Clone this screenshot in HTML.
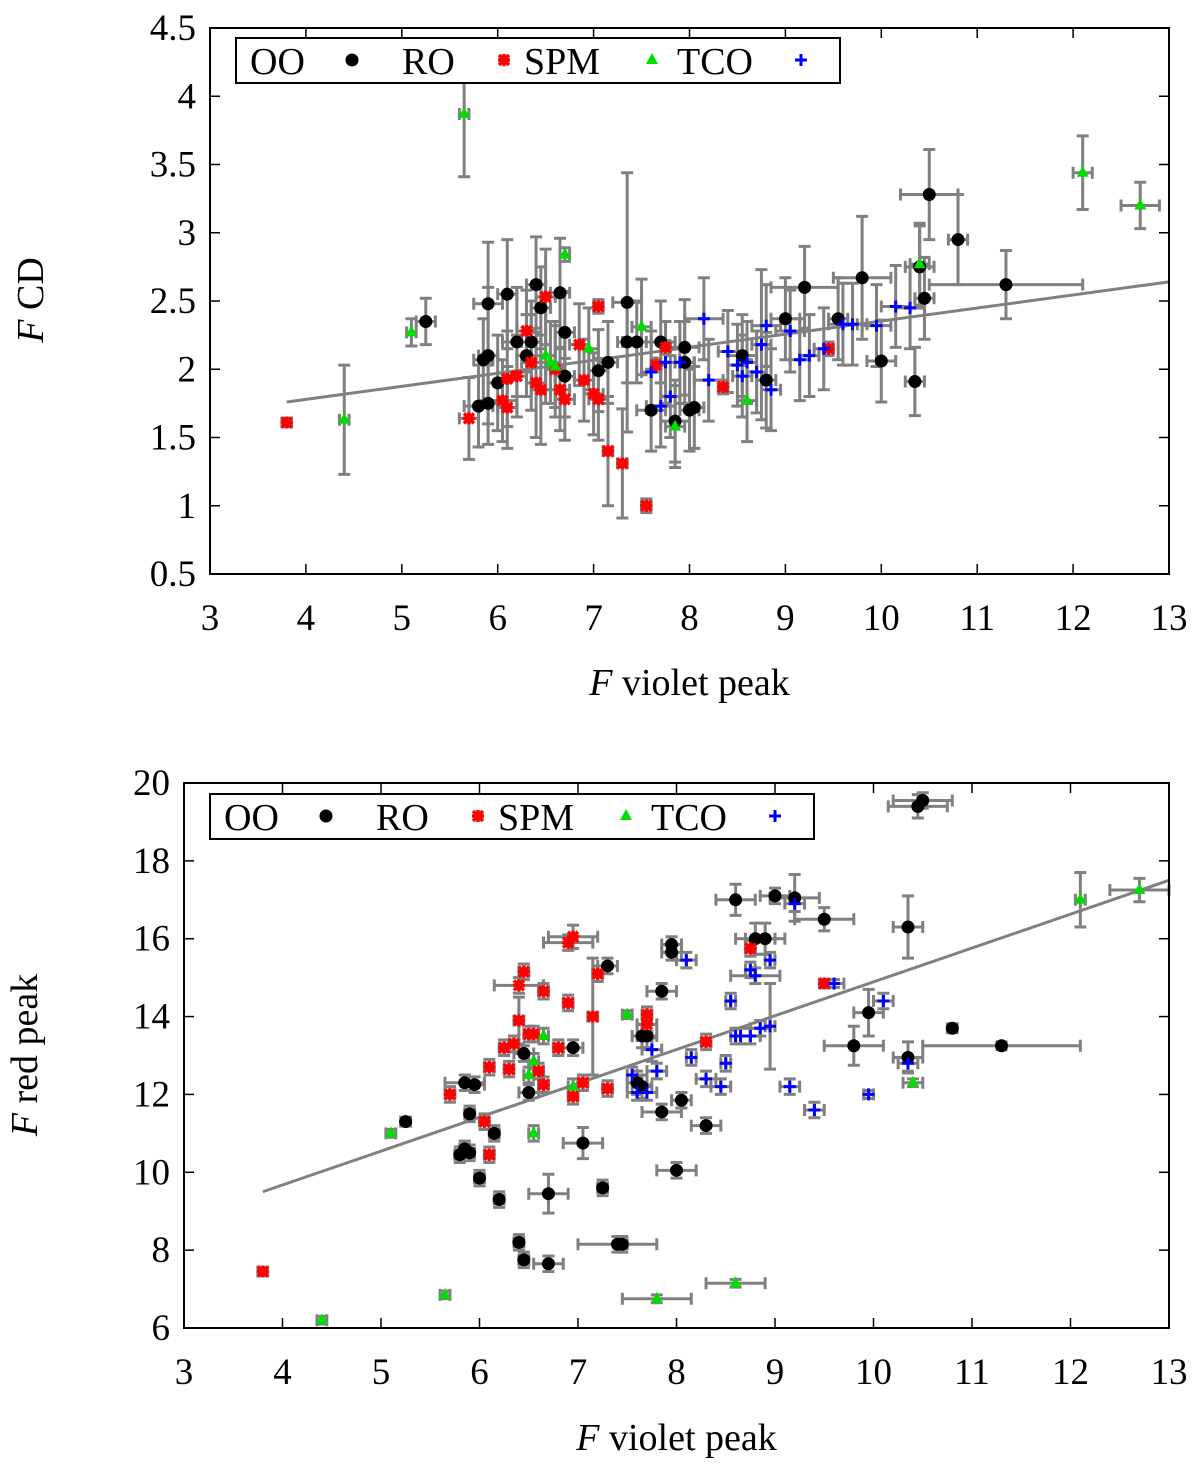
<!DOCTYPE html>
<html><head><meta charset="utf-8"><style>
body{margin:0;background:#fff}
svg text{font-family:"Liberation Serif",serif;fill:#000}
</style></head><body>
<svg id="chart" width="1200" height="1462" viewBox="0 0 1200 1462" xmlns="http://www.w3.org/2000/svg"></svg>
<script>
// ===== Top panel data: [x, y, xerr, yerr] =====
const topOO = [[5.25,2.35,0.1,0.17],[5.9,2.48,0.15,0.45],[6.1,2.55,0.1,0.4],[5.85,2.07,0.1,0.3],[5.9,2.1,0.1,0.5],[5.8,1.73,0.15,0.3],[5.9,1.75,0.1,0.3],[6.0,1.9,0.1,0.35],[6.2,2.2,0.15,0.4],[6.4,2.62,0.1,0.35],[6.45,2.45,0.1,0.3],[6.65,2.56,0.1,0.4],[6.7,2.27,0.1,0.3],[6.35,2.2,0.1,0.3],[6.3,2.1,0.1,0.3],[6.7,1.95,0.1,0.3],[7.05,1.99,0.1,0.3],[7.35,2.49,0.15,0.95],[7.15,2.05,0.1,0.3],[7.45,2.2,0.15,0.3],[7.6,1.7,0.15,0.3],[7.85,1.62,0.15,0.3],[7.95,2.16,0.15,0.35],[7.95,2.05,0.1,0.3],[8.0,1.7,0.1,0.3],[8.05,1.72,0.1,0.3],[8.55,2.1,0.15,0.3],[8.8,1.92,0.1,0.35],[9.2,2.6,0.35,0.3],[9.0,2.37,0.15,0.3],[9.55,2.37,0.1,0.3],[9.8,2.67,0.3,0.45],[10.0,2.06,0.15,0.3],[10.35,1.91,0.1,0.25],[10.4,2.75,0.15,0.3],[10.45,2.52,0.1,0.3],[10.5,3.28,0.3,0.33],[10.8,2.95,0.1,0.33],[11.3,2.62,0.8,0.25],[7.7,2.2,0.15,0.3],[7.35,2.2,0.1,0.3]];
const topRO = [[3.8,1.61,0.05,0.03],[5.7,1.64,0.1,0.3],[6.05,1.77,0.15,0.3],[6.1,1.72,0.1,0.3],[6.1,1.93,0.1,0.35],[6.3,2.28,0.1,0.3],[6.35,2.05,0.1,0.35],[6.4,1.9,0.1,0.4],[6.45,1.85,0.1,0.4],[6.5,2.53,0.1,0.35],[6.6,2.0,0.1,0.35],[6.65,1.85,0.1,0.3],[6.7,1.78,0.1,0.3],[6.85,2.18,0.1,0.3],[6.9,1.92,0.1,0.3],[7.0,1.82,0.1,0.3],[7.05,1.78,0.1,0.3],[7.05,2.46,0.05,0.05],[7.15,1.4,0.05,0.4],[7.3,1.31,0.05,0.4],[7.55,1.0,0.05,0.05],[7.65,2.03,0.05,0.05],[7.75,2.16,0.05,0.05],[8.35,1.87,0.05,0.05],[9.45,2.15,0.05,0.05],[6.2,1.95,0.1,0.3]];
const topSPM = [[4.4,1.63,0.05,0.4],[5.1,2.27,0.05,0.1],[5.65,3.87,0.05,0.46],[6.5,2.1,0.1,0.35],[6.55,2.05,0.1,0.3],[6.6,2.02,0.1,0.3],[6.7,2.84,0.05,0.05],[6.95,2.15,0.1,0.3],[7.5,2.31,0.1,0.35],[7.85,1.58,0.1,0.3],[8.6,1.77,0.1,0.3],[10.4,2.77,0.1,0.3],[12.1,3.44,0.1,0.27],[12.7,3.2,0.2,0.17]];
const topTCO = [[7.6,1.98,0.1,0.3],[7.7,1.73,0.15,0.3],[7.75,2.05,0.1,0.3],[7.8,1.8,0.1,0.3],[7.9,2.05,0.15,0.3],[8.15,2.37,0.2,0.3],[8.2,1.92,0.15,0.3],[8.4,2.13,0.1,0.3],[8.5,2.03,0.1,0.3],[8.55,1.95,0.1,0.3],[8.6,2.05,0.1,0.3],[8.75,2.18,0.1,0.55],[8.8,2.32,0.15,0.3],[8.85,1.85,0.1,0.3],[8.7,1.98,0.1,0.3],[9.05,2.28,0.15,0.3],[9.15,2.07,0.1,0.3],[9.25,2.1,0.1,0.3],[9.4,2.15,0.1,0.3],[9.6,2.33,0.15,0.3],[9.95,2.32,0.15,0.3],[10.15,2.46,0.15,0.3],[10.3,2.45,0.15,0.3],[9.7,2.33,0.15,0.3]];
const topFit = [[3.8,1.76],[13,2.64]];
const topYTicks = ["0.5","1","1.5","2","2.5","3","3.5","4","4.5"];
const xTicks = ["3","4","5","6","7","8","9","10","11","12","13"];

// ===== Bottom panel data: [x, y, xerr, yerr] =====
const botOO = [[5.25,11.3,0.05,0.1],[5.8,10.45,0.05,0.2],[5.85,10.6,0.05,0.2],[5.9,10.5,0.05,0.2],[5.85,12.3,0.2,0.2],[5.9,11.5,0.05,0.2],[5.95,12.25,0.1,0.2],[6.0,9.85,0.05,0.2],[6.15,11.0,0.05,0.2],[6.2,9.3,0.05,0.2],[6.4,8.2,0.05,0.2],[6.45,7.75,0.05,0.2],[6.45,13.05,0.1,0.2],[6.5,12.05,0.1,0.2],[6.7,9.45,0.2,0.5],[6.7,7.65,0.15,0.2],[6.95,13.2,0.1,0.2],[7.05,10.75,0.2,0.4],[7.25,9.6,0.05,0.2],[7.3,15.3,0.1,0.2],[7.4,8.15,0.4,0.2],[7.45,8.15,0.05,0.2],[7.65,13.5,0.1,0.3],[7.7,13.5,0.1,0.3],[7.6,12.3,0.1,0.3],[7.85,14.65,0.15,0.2],[7.85,11.55,0.2,0.2],[7.95,15.85,0.1,0.2],[7.95,15.65,0.1,0.2],[8.0,10.05,0.2,0.2],[8.05,11.85,0.1,0.2],[8.3,11.2,0.15,0.2],[8.6,17.0,0.2,0.4],[8.8,16.0,0.2,0.4],[8.9,16.0,0.2,0.4],[9.0,17.1,0.15,0.2],[9.2,17.05,0.25,0.6],[9.5,16.5,0.3,0.3],[9.8,13.25,0.3,0.5],[9.95,14.1,0.15,0.6],[10.35,16.3,0.15,0.8],[10.35,12.95,0.15,0.4],[10.45,19.4,0.3,0.3],[10.5,19.55,0.3,0.2],[10.8,13.7,0.05,0.1],[11.3,13.25,0.8,0.1],[7.65,12.2,0.1,0.3]];
const botRO = [[3.8,7.45,0.05,0.1],[5.7,12.0,0.05,0.2],[6.05,11.3,0.05,0.2],[6.1,10.45,0.05,0.2],[6.1,12.7,0.05,0.2],[6.25,13.2,0.05,0.2],[6.3,12.65,0.05,0.2],[6.35,13.3,0.05,0.2],[6.4,13.9,0.05,0.6],[6.45,15.15,0.05,0.2],[6.4,14.8,0.25,0.2],[6.5,13.55,0.05,0.2],[6.55,13.55,0.05,0.2],[6.6,12.6,0.05,0.2],[6.65,12.25,0.05,0.2],[6.65,14.65,0.05,0.2],[6.9,14.35,0.05,0.2],[6.95,11.95,0.05,0.2],[6.9,15.9,0.25,0.2],[6.95,16.05,0.25,0.3],[7.05,12.3,0.05,0.2],[7.2,15.1,0.05,0.2],[7.15,14.0,0.05,1.5],[7.3,12.15,0.05,0.2],[7.7,13.8,0.1,0.2],[7.7,14.05,0.05,0.2],[8.3,13.35,0.05,0.2],[8.75,15.75,0.05,0.2],[9.5,14.85,0.05,0.1],[6.8,13.2,0.05,0.2]];
const botSPM = [[4.4,6.2,0.05,0.1],[5.1,11.0,0.05,0.1],[5.65,6.85,0.05,0.1],[6.5,12.5,0.05,0.2],[6.55,11.0,0.05,0.2],[6.55,12.85,0.05,0.2],[6.65,13.5,0.05,0.2],[6.95,12.2,0.05,0.2],[7.5,14.05,0.05,0.1],[7.8,6.75,0.35,0.1],[8.6,7.15,0.3,0.1],[10.4,12.3,0.1,0.1],[12.1,17.0,0.05,0.7],[12.7,17.25,0.3,0.3]];
const botTCO = [[7.55,12.5,0.05,0.2],[7.6,12.05,0.1,0.2],[7.7,12.05,0.1,0.2],[7.75,13.15,0.1,0.3],[7.8,12.6,0.1,0.2],[8.1,15.45,0.1,0.2],[8.15,12.95,0.05,0.2],[8.3,12.4,0.1,0.2],[8.45,12.2,0.1,0.2],[8.5,12.8,0.05,0.2],[8.55,14.4,0.05,0.2],[8.6,13.5,0.05,0.2],[8.75,13.5,0.1,0.2],[8.75,15.2,0.05,0.2],[8.8,15.05,0.25,0.2],[8.85,13.7,0.1,0.2],[8.95,13.75,0.05,1.1],[8.95,15.45,0.05,0.2],[9.15,12.2,0.1,0.2],[9.2,16.9,0.1,0.2],[9.4,11.6,0.1,0.2],[9.6,14.85,0.1,0.1],[9.95,12.0,0.05,0.1],[10.1,14.4,0.1,0.2],[10.35,12.8,0.1,0.2],[8.65,13.5,0.1,0.2]];
const botFit = [[3.8,9.5],[13,17.5]];
const botYTicks = ["6","8","10","12","14","16","18","20"];

const NS = "http://www.w3.org/2000/svg";
const svg = document.getElementById('chart');
function mk(tag, attrs, parent){
  const e = document.createElementNS(NS, tag);
  for (const k in attrs) e.setAttribute(k, attrs[k]);
  (parent||svg).appendChild(e);
  return e;
}
function marker(g, type, cx, cy){
  let m;
  if (type==='oo'){ m = mk('circle',{cx:cx,cy:cy,r:6.5,fill:'#000'},g); }
  else if (type==='ro'){ m = mk('path',{d:`M${cx-5} ${cy-5}L${cx+5} ${cy+5}M${cx-5} ${cy+5}L${cx+5} ${cy-5}M${cx} ${cy-6}V${cy+6}M${cx-6} ${cy}H${cx+6}`,stroke:'#f00','stroke-width':3.5,fill:'none'},g); }
  else if (type==='spm'){ m = mk('path',{d:`M${cx} ${cy-7}L${cx+6} ${cy+4}L${cx-6} ${cy+4}Z`,fill:'#0d0'},g); }
  else { m = mk('path',{d:`M${cx-6} ${cy}H${cx+6}M${cx} ${cy-6}V${cy+6}`,stroke:'#00f','stroke-width':3,fill:'none'},g); }
  return m;
}
function panel(opt){
  const {L,R,T,B,x0,x1,y0,y1,yTicks,series,fit,legend,name,ylab,xlabY,ylabX,ylabY} = opt;
  const g = mk('g',{});
  
  
  const sx = v => L + (v-x0)/(x1-x0)*(R-L);
  const sy = v => B - (v-y0)/(y1-y0)*(B-T);
  // ticks
  xTicks.forEach(t=>{
    const v=+t, X=sx(v);
    mk('line',{x1:X,x2:X,y1:B,y2:B-10,stroke:'#000','stroke-width':1.5},g);
    mk('line',{x1:X,x2:X,y1:T,y2:T+10,stroke:'#000','stroke-width':1.5},g);
    const tx = mk('text',{x:X,y:B+56,'font-size':37,'text-anchor':'middle'},g);
    tx.textContent=t;
    
    
  });
  yTicks.forEach(t=>{
    const v=+t, Y=sy(v);
    mk('line',{x1:L,x2:L+10,y1:Y,y2:Y,stroke:'#000','stroke-width':1.5},g);
    mk('line',{x1:R,x2:R-10,y1:Y,y2:Y,stroke:'#000','stroke-width':1.5},g);
    const tx = mk('text',{x:L-14,y:Y+12,'font-size':37,'text-anchor':'end'},g);
    tx.textContent=t;
    
    
  });
  // fit line
  const fl = mk('line',{x1:sx(fit[0][0]),y1:sy(fit[0][1]),x2:sx(fit[1][0]),y2:sy(fit[1][1]),stroke:'#808080','stroke-width':3},g);
  
  
  // error bars then markers
  series.forEach(s=>{
    const sg = mk('g',{},g);
    
    
    s.data.forEach(p=>{
      const X=sx(p[0]),Y=sy(p[1]);
      const xa=sx(p[0]-p[2]), xb=sx(p[0]+p[2]), ya=sy(p[1]-p[3]), yb=sy(p[1]+p[3]);
      mk('path',{d:`M${xa} ${Y}H${xb}M${xa} ${Y-6}V${Y+6}M${xb} ${Y-6}V${Y+6}M${X} ${ya}V${yb}M${X-6} ${ya}H${X+6}M${X-6} ${yb}H${X+6}`,stroke:'#808080','stroke-width':3,fill:'none'},sg);
    });
  });
  series.forEach(s=>{
    const sg = mk('g',{},g);
    s.data.forEach(p=>{
      const m = marker(sg, s.type, sx(p[0]), sy(p[1]));
      
      
    });
  });
  // frame
  mk('rect',{x:L,y:T,width:R-L,height:B-T,fill:'none',stroke:'#000','stroke-width':2},g);
  // legend
  const lg = mk('g',{},g);
  
  
  mk('rect',{x:legend.x,y:legend.y,width:604,height:45,fill:'#fff',stroke:'#000','stroke-width':2},lg);
  const items=[['OO','oo',14,116],['RO','ro',166,268],['SPM','spm',288,416],['TCO','tco',441,565]];
  items.forEach(it=>{
    const t = mk('text',{x:legend.x+it[2],y:legend.y+36,'font-size':38},lg);
    t.textContent=it[0];
    
    
    marker(lg,it[1],legend.x+it[3],legend.y+22);
  });
  // axis labels
  const xl = mk('text',{x:(L+R)/2,y:xlabY,'font-size':38,'text-anchor':'middle'},g);
  xl.innerHTML='<tspan font-style="italic">F</tspan> violet peak';
  
  
  const yl = mk('text',{x:0,y:0,'font-size':38,'text-anchor':'middle',transform:`translate(${ylabX},${ylabY}) rotate(-90)`},g);
  yl.innerHTML='<tspan font-style="italic">F</tspan> '+ylab;
  
  
}
panel({name:'top-panel',L:210,R:1169,T:28,B:574,x0:3,x1:13,y0:0.5,y1:4.5,yTicks:topYTicks,
  series:[{type:'oo',data:topOO},{type:'ro',data:topRO},{type:'spm',data:topSPM},{type:'tco',data:topTCO}],
  fit:topFit,legend:{x:236,y:38},ylab:'CD',xlabY:695,ylabX:43,ylabY:300});
panel({name:'bottom-panel',L:184,R:1169,T:783,B:1328,x0:3,x1:13,y0:6,y1:20,yTicks:botYTicks,
  series:[{type:'oo',data:botOO},{type:'ro',data:botRO},{type:'spm',data:botSPM},{type:'tco',data:botTCO}],
  fit:botFit,legend:{x:210,y:794},ylab:'red peak',xlabY:1450,ylabX:37,ylabY:1055});
</script>
</body></html>
